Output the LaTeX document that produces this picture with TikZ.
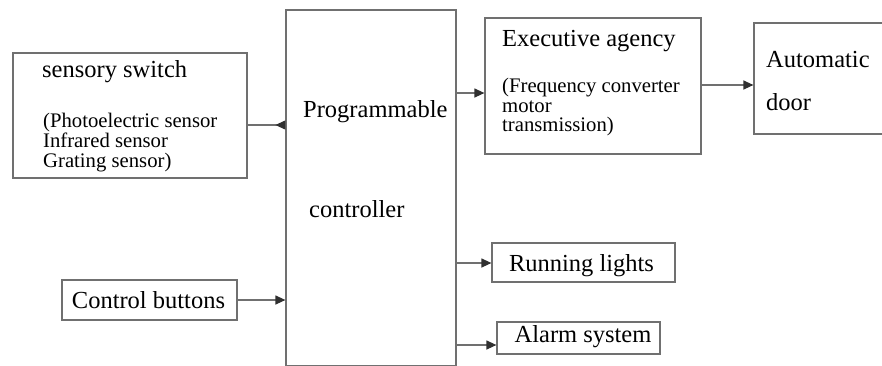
\documentclass[tikz,border=0pt]{standalone}
\usepackage{fontspec}
\setmainfont{Liberation Serif}
\usetikzlibrary{arrows.meta}
\definecolor{edge}{HTML}{707070}
\definecolor{tipc}{HTML}{303030}
\tikzset{
  box/.style={draw=edge, line width=1.2pt, fill=white, rectangle, inner sep=0pt},
  big/.style={font=\fontsize{24.5}{26}\selectfont, inner sep=0pt, anchor=base west},
  bigc/.style={font=\fontsize{24.5}{26}\selectfont, inner sep=0pt, anchor=base},
  small/.style={font=\fontsize{20.7}{19.5}\selectfont, inner sep=0pt, anchor=base west, align=left},
  link/.style={draw=edge, line width=1.2pt, -{Triangle[length=10pt,width=9pt,color=tipc]}},
  backlink/.style={draw=edge, line width=1.2pt, -{Triangle[length=10pt,width=9pt,color=tipc,reversed]}}
}
\begin{document}
\begin{tikzpicture}[x=1pt,y=-1pt]
\useasboundingbox (0,0) rectangle (882,365);

% blocks
\node[box, minimum width=170pt, minimum height=356pt] (ctrl) at (371,188) {};
\node[box, minimum width=234pt, minimum height=125pt] (sens) at (130,115.5) {};
\node[box, minimum width=175pt, minimum height=40pt]  (btn)  at (149.5,300) {};
\node[box, minimum width=216pt, minimum height=136pt] (exec) at (593,86) {};
\node[box, minimum width=146pt, minimum height=111pt] (door) at (827,78.5) {};
\node[box, minimum width=183pt, minimum height=39pt]  (lights) at (583.5,262.5) {};
\node[box, minimum width=163pt, minimum height=32pt]  (alarm)  at (578.5,338) {};

% labels
\node[big] (sensT) at (42,77) {sensory switch};
\node[small] (sensL1) at (43,127) {(Photoelectric sensor};
\node[small] (sensL2) at (43,147) {Infrared sensor};
\node[small] (sensL3) at (43,167) {Grating sensor)};
\node[big] (ctrlT1) at (303,117) {Programmable};
\node[big] (ctrlT2) at (309,217) {controller};
\node[big] (execT) at (502,46) {Executive agency};
\node[small] (execL1) at (502,92) {(Frequency converter};
\node[small] (execL2) at (502,112) {motor};
\node[small] (execL3) at (502,131) {transmission)};
\node[big] (doorT1) at (766,67) {Automatic};
\node[big] (doorT2) at (766,110) {door};
\node[bigc] (btnT) at (148.5,308) {Control buttons};
\node[bigc] (lightsT) at (581.5,271) {Running lights};
\node[bigc] (alarmT) at (583,342) {Alarm system};

% connectors
\draw[backlink] (sens.east |- 0,125) -- (ctrl.west |- 0,125);
\draw[link] (btn.east |- 0,300) -- (ctrl.west |- 0,300);
\draw[link] (ctrl.east |- 0,93) -- (exec.west |- 0,93);
\draw[link] (exec.east |- 0,85) -- (door.west |- 0,85);
\draw[link] (ctrl.east |- 0,263) -- (lights.west |- 0,263);
\draw[link] (ctrl.east |- 0,345) -- (alarm.west |- 0,345);
\end{tikzpicture}
\end{document}
